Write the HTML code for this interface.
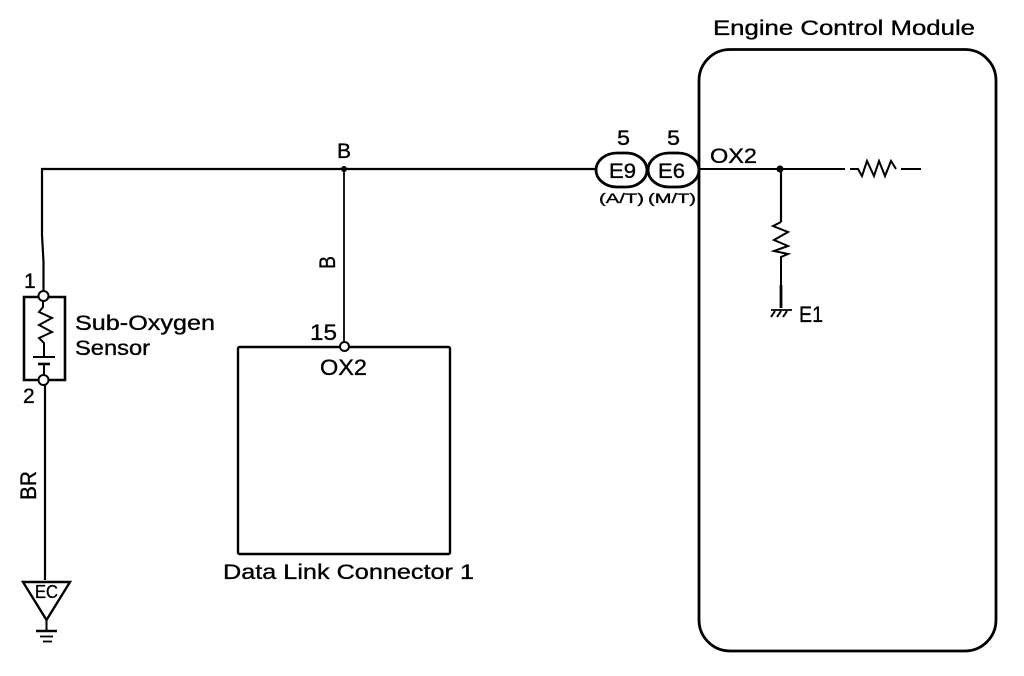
<!DOCTYPE html>
<html>
<head>
<meta charset="utf-8">
<style>
html,body{margin:0;padding:0;background:#fff;}
svg{display:block;}
text{font-family:"Liberation Sans",sans-serif;fill:#000;stroke:#000;stroke-width:0.35;}
</style>
</head>
<body>
<svg width="1024" height="676" viewBox="0 0 1024 676" xmlns="http://www.w3.org/2000/svg">
<g fill="none" stroke="#000" stroke-width="2">
<!-- ECM -->
<rect x="699" y="49.500" width="297" height="601.500" rx="31" ry="31" stroke-width="2.800"/>
<!-- main wire -->
<path d="M596 169H42V235L43.500 262V292" stroke-width="2.200"/>
<path d="M699 169H845M901 169H921"/>
<path d="M850 169H858L862 176L867 161L874 176L879 161L885 176L891 161L896 169" stroke-width="2"/>
<!-- B branch -->
<path d="M344 169V342" stroke-width="1.800"/>
<!-- DLC -->
<rect x="238" y="347" width="212" height="207" rx="1.500" stroke-width="2.400"/>
<!-- Sensor -->
<path d="M40 297H24V380H40M48 297H65V380H48" stroke-width="2.600"/>
<path d="M43 301V307L39 312L52 318L39 325L52 332L39 338L44 343V356" stroke-width="2"/>
<path d="M33 357H55" stroke-width="2"/>
<path d="M38 364H50" stroke-width="2.600"/>
<path d="M44 364V375" stroke-width="2"/>
<path d="M45 385V580" stroke-width="2.200"/>
<!-- EC ground -->
<path d="M23 582H70L46.500 620Z" stroke-width="2.400"/>
<path d="M46.500 620V631" stroke-width="2"/>
<path d="M36 631H57" stroke-width="2.400"/>
<path d="M40 636.500H53" stroke-width="1.800"/>
<path d="M43 641.500H52" stroke-width="1.800"/>
<!-- Connectors -->
<rect x="596" y="153" width="51" height="34" rx="21" ry="17" stroke-width="2.800"/>
<rect x="648" y="153" width="51" height="34" rx="21" ry="17" stroke-width="2.800"/>
<!-- ECM internal -->
<path d="M781 169V222" stroke-width="2.200"/>
<path d="M781 222L773 226L788 232L774 240L788 246L774 251L788 254L781 257V308" stroke-width="2"/>
<path d="M781 285V308" stroke-width="2.800"/>
<path d="M771 310H792" stroke-width="1.800"/>
<path d="M771 317L775 311M777 317L781 311M783 317L787 311" stroke-width="2"/>
</g>
<!-- dots & terminals -->
<circle cx="344" cy="169" r="3" fill="#000"/>
<circle cx="780" cy="169" r="3.500" fill="#000"/>
<circle cx="43.500" cy="296" r="5" fill="#fff" stroke="#000" stroke-width="2"/>
<circle cx="43.500" cy="380" r="5" fill="#fff" stroke="#000" stroke-width="2"/>
<circle cx="344.500" cy="346.500" r="4.500" fill="#fff" stroke="#000" stroke-width="2"/>
<!-- labels -->
<text x="713" y="35" font-size="21" textLength="262" lengthAdjust="spacingAndGlyphs">Engine Control Module</text>
<text x="337" y="158" font-size="21" textLength="14" lengthAdjust="spacingAndGlyphs">B</text>
<text x="617" y="145" font-size="21" textLength="13" lengthAdjust="spacingAndGlyphs">5</text>
<text x="667" y="145" font-size="21" textLength="13" lengthAdjust="spacingAndGlyphs">5</text>
<text x="710" y="163" font-size="21" textLength="47" lengthAdjust="spacingAndGlyphs">OX2</text>
<text x="609" y="178" font-size="21" textLength="27" lengthAdjust="spacingAndGlyphs">E9</text>
<text x="658" y="178" font-size="21" textLength="27" lengthAdjust="spacingAndGlyphs">E6</text>
<text x="599" y="203" font-size="14" textLength="45" lengthAdjust="spacingAndGlyphs">(A/T)</text>
<text x="648" y="203" font-size="14" textLength="48" lengthAdjust="spacingAndGlyphs">(M/T)</text>
<text x="799" y="322" font-size="22" textLength="24" lengthAdjust="spacingAndGlyphs">E1</text>
<text x="24" y="288" font-size="21">1</text>
<text x="23" y="403" font-size="21">2</text>
<text x="75" y="330" font-size="21" textLength="140" lengthAdjust="spacingAndGlyphs">Sub-Oxygen</text>
<text x="75" y="355" font-size="21" textLength="75" lengthAdjust="spacingAndGlyphs">Sensor</text>
<text x="310" y="340" font-size="22" textLength="27" lengthAdjust="spacingAndGlyphs">15</text>
<text x="320" y="375" font-size="22" textLength="47" lengthAdjust="spacingAndGlyphs">OX2</text>
<text x="223" y="579" font-size="21" textLength="251" lengthAdjust="spacingAndGlyphs">Data Link Connector 1</text>
<text x="35" y="598" font-size="18" textLength="23" lengthAdjust="spacingAndGlyphs">EC</text>
<text transform="translate(335,269) rotate(-90)" font-size="22" textLength="13" lengthAdjust="spacingAndGlyphs">B</text>
<text transform="translate(36,500) rotate(-90)" font-size="22" textLength="29" lengthAdjust="spacingAndGlyphs">BR</text>
</svg>
</body>
</html>
